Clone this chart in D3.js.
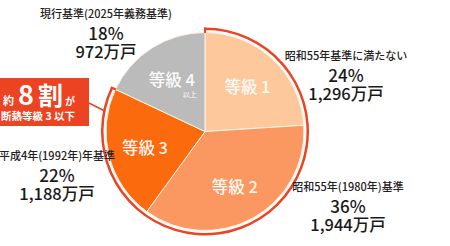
<!DOCTYPE html>
<html>
<head>
<meta charset="utf-8">
<script src="https://cdn.jsdelivr.net/npm/d3@7/dist/d3.min.js"></script>
<style>
  html, body { margin: 0; padding: 0; background: #fff; }
  svg { display: block; }
  text { font-family: "Noto Sans CJK JP", "Noto Sans", sans-serif; }
</style>
</head>
<body>
<svg id="chart" width="450" height="246"></svg>
<script>
// Housing stock by insulation grade
const grades = ["等級 1", "等級 2", "等級 3", "等級 4"];
const shares = [24, 36, 22, 18];                 // %
const households = [1296, 1944, 1188, 972];      // 万戸
const standards = [
  "昭和55年基準に満たない",
  "昭和55年(1980年)基準",
  "平成4年(1992年)年基準",
  "現行基準(2025年義務基準)"
];
const colors = ["#FDC99C", "#FB9760", "#FB6A0C", "#BBBBBB"];
const accent = "#EC4322";

const svg = d3.select("#chart");
const cx = 205, cy = 131.5, R = 99;

const g = svg.append("g").attr("transform", `translate(${cx},${cy})`);

const pie = d3.pie().sort(null).value(d => d);
const arcs = pie(shares);
const arc = d3.arc().innerRadius(0).outerRadius(R);

g.selectAll("path.slice")
  .data(arcs)
  .join("path")
  .attr("class", "slice")
  .attr("d", arc)
  .attr("fill", (d, i) => colors[i])
  .attr("stroke", "#FFF3E6")
  .attr("stroke-width", 1);

// bracket arc around grades 1-3
const lowEnd = arcs[2].endAngle;
const bracketArc = d3.arc().innerRadius(R + 2.5).outerRadius(R + 5)
  .startAngle(0).endAngle(lowEnd);
g.append("path").attr("d", bracketArc()).attr("fill", accent);
[0, lowEnd].forEach(a => {
  g.append("line")
    .attr("x1", Math.sin(a) * (R - 0.5)).attr("y1", -Math.cos(a) * (R - 0.5))
    .attr("x2", Math.sin(a) * (R + 5)).attr("y2", -Math.cos(a) * (R + 5))
    .attr("stroke", accent).attr("stroke-width", 2.2);
});

// grade names inside slices
const labelArc = d3.arc().innerRadius(62).outerRadius(62);
g.selectAll("text.grade")
  .data(arcs)
  .join("text")
  .attr("class", "grade")
  .attr("x", d => labelArc.centroid(d)[0])
  .attr("y", d => labelArc.centroid(d)[1])
  .attr("text-anchor", "middle")
  .attr("dominant-baseline", "central")
  .attr("fill", "#fff")
  .attr("fill-opacity", 0.95)
  .attr("font-size", 16.5)
  .attr("font-weight", 500)
  .text((d, i) => grades[i]);

const c4 = labelArc.centroid(arcs[3]);
g.append("text")
  .attr("x", c4[0] + 18).attr("y", c4[1] + 15)
  .attr("text-anchor", "middle")
  .attr("dominant-baseline", "central")
  .attr("fill", "#fff")
  .attr("font-size", 7)
  .text("以上");

// outer labels: standard, share, households
const outerPos = [
  [346, 55],
  [348, 186],
  [57, 155],
  [106, 13]
];
const fmt = d3.format(",");
grades.forEach((_, i) => {
  const [x, y] = outerPos[i];
  const t = svg.append("g").attr("transform", `translate(${x},${y})`);
  t.append("text").attr("text-anchor", "middle").attr("dominant-baseline", "central")
    .attr("font-size", 11).attr("font-weight", 500).attr("fill", "#222")
    .text(standards[i]);
  t.append("text").attr("y", 19).attr("text-anchor", "middle").attr("dominant-baseline", "central")
    .attr("font-size", 17).attr("font-weight", 500).attr("fill", "#1a1a1a")
    .text(shares[i] + "%");
  t.append("text").attr("y", 38).attr("text-anchor", "middle").attr("dominant-baseline", "central")
    .attr("font-size", 16.5).attr("font-weight", 500).attr("fill", "#1a1a1a")
    .text(fmt(households[i]) + "万戸");
});

// callout box
const boxRight = 89, boxTop = 78, boxBottom = 126;
const calloutAngle = 281.6 * Math.PI / 180;
svg.append("line")
  .attr("x1", boxRight).attr("y1", 103)
  .attr("x2", cx + Math.sin(calloutAngle) * (R + 4))
  .attr("y2", cy - Math.cos(calloutAngle) * (R + 4))
  .attr("stroke", accent).attr("stroke-width", 1.5);
svg.append("rect")
  .attr("x", -2).attr("y", boxTop)
  .attr("width", boxRight + 2).attr("height", boxBottom - boxTop)
  .attr("fill", accent);

const head = svg.append("text").attr("x", 3).attr("y", 105)
  .attr("fill", "#fff").attr("font-weight", 700);
head.append("tspan").attr("font-size", 11).text("約");
head.append("tspan").attr("dx", 4).attr("font-size", 27).text("8");
head.append("tspan").attr("dx", 4).attr("font-size", 25).text("割");
head.append("tspan").attr("dx", 2).attr("font-size", 10).text("が");

svg.append("text").attr("x", 1).attr("y", 115)
  .attr("dominant-baseline", "central")
  .attr("fill", "#fff").attr("font-size", 10.5).attr("font-weight", 700)
  .text("断熱等級 3 以下");
</script>
</body>
</html>
